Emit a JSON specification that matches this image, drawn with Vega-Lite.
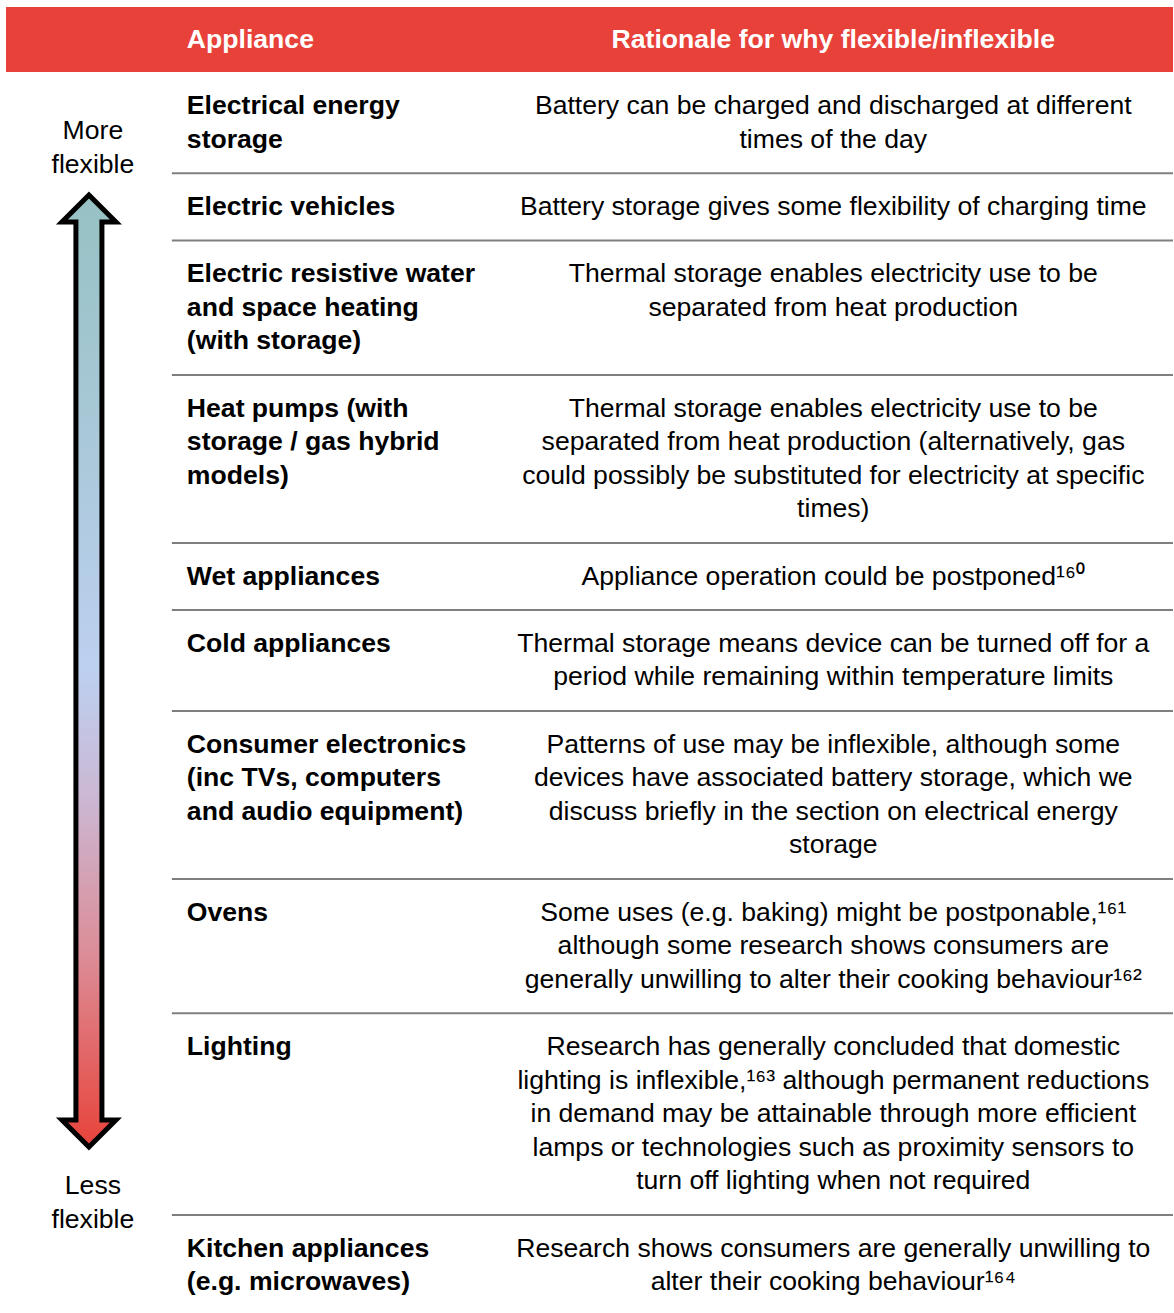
{
  "$schema": "https://vega.github.io/schema/vega-lite/v6.json",
  "width": 1174,
  "height": 1313,
  "autosize": {"type": "fit", "contains": "padding"},
  "padding": 0,
  "background": "white",
  "config": {
    "view": {"stroke": null},
    "text": {"font": "Liberation Sans, Noto Sans", "fontSize": 26.6, "color": "#000000"}
  },
  "datasets": {
    "header": [
      {"col": "Appliance", "line": -1},
      {"col": "Rationale for why flexible/inflexible", "line": -1}
    ],
    "appliances": [
      {"line": 1, "text": "Electrical energy"},
      {"line": 2, "text": "storage"},
      {"line": 4, "text": "Electric vehicles"},
      {"line": 6, "text": "Electric resistive water"},
      {"line": 7, "text": "and space heating"},
      {"line": 8, "text": "(with storage)"},
      {"line": 10, "text": "Heat pumps (with"},
      {"line": 11, "text": "storage / gas hybrid"},
      {"line": 12, "text": "models)"},
      {"line": 15, "text": "Wet appliances"},
      {"line": 17, "text": "Cold appliances"},
      {"line": 20, "text": "Consumer electronics"},
      {"line": 21, "text": "(inc TVs, computers"},
      {"line": 22, "text": "and audio equipment)"},
      {"line": 25, "text": "Ovens"},
      {"line": 29, "text": "Lighting"},
      {"line": 35, "text": "Kitchen appliances"},
      {"line": 36, "text": "(e.g. microwaves)"}
    ],
    "rationales": [
      {"line": 1, "text": "Battery can be charged and discharged at different"},
      {"line": 2, "text": "times of the day"},
      {"line": 4, "text": "Battery storage gives some flexibility of charging time"},
      {"line": 6, "text": "Thermal storage enables electricity use to be"},
      {"line": 7, "text": "separated from heat production"},
      {"line": 10, "text": "Thermal storage enables electricity use to be"},
      {"line": 11, "text": "separated from heat production (alternatively, gas"},
      {"line": 12, "text": "could possibly be substituted for electricity at specific"},
      {"line": 13, "text": "times)"},
      {"line": 15, "text": "Appliance operation could be postponed¹⁶⁰"},
      {"line": 17, "text": "Thermal storage means device can be turned off for a"},
      {"line": 18, "text": "period while remaining within temperature limits"},
      {"line": 20, "text": "Patterns of use may be inflexible, although some"},
      {"line": 21, "text": "devices have associated battery storage, which we"},
      {"line": 22, "text": "discuss briefly in the section on electrical energy"},
      {"line": 23, "text": "storage"},
      {"line": 25, "text": "Some uses (e.g. baking) might be postponable,¹⁶¹"},
      {"line": 26, "text": "although some research shows consumers are"},
      {"line": 27, "text": "generally unwilling to alter their cooking behaviour¹⁶²"},
      {"line": 29, "text": "Research has generally concluded that domestic"},
      {"line": 30, "text": "lighting is inflexible,¹⁶³ although permanent reductions"},
      {"line": 31, "text": "in demand may be attainable through more efficient"},
      {"line": 32, "text": "lamps or technologies such as proximity sensors to"},
      {"line": 33, "text": "turn off lighting when not required"},
      {"line": 35, "text": "Research shows consumers are generally unwilling to"},
      {"line": 36, "text": "alter their cooking behaviour¹⁶⁴"}
    ],
    "separators": [
      {"after": 3}, {"after": 5}, {"after": 9}, {"after": 14}, {"after": 16},
      {"after": 19}, {"after": 24}, {"after": 28}, {"after": 34}
    ],
    "scaleLabels": [
      {"line": 1.75, "text": "More"},
      {"line": 2.76, "text": "flexible"},
      {"line": 33.15, "text": "Less"},
      {"line": 34.14, "text": "flexible"}
    ],
    "arrow": [{"name": "flexibility"}]
  },
  "layer": [
    {
      "data": {"values": [{"name": "header"}]},
      "mark": {"type": "rect", "color": "#E8413A"},
      "encoding": {
        "x": {"datum": 6, "type": "quantitative", "scale": {"domain": [0, 1174], "nice": false, "zero": false}, "axis": null},
        "x2": {"datum": 1174},
        "y": {"datum": -1.905, "type": "quantitative", "scale": {"domain": [-2.113, 36.964], "nice": false, "zero": false, "reverse": true}, "axis": null},
        "y2": {"datum": 0.03}
      }
    },
    {
      "data": {"name": "header"},
      "transform": [{"filter": "datum.col == 'Appliance'"}],
      "mark": {"type": "text", "align": "left", "baseline": "middle", "fontWeight": "bold", "color": "#FFFFFF", "dy": 3},
      "encoding": {
        "x": {"datum": 187, "type": "quantitative", "scale": {"domain": [0, 1174], "nice": false, "zero": false}, "axis": null},
        "y": {"field": "line", "type": "quantitative", "scale": {"domain": [-2.113, 36.964], "nice": false, "zero": false, "reverse": true}, "axis": null},
        "text": {"field": "col"}
      }
    },
    {
      "data": {"name": "header"},
      "transform": [{"filter": "datum.col != 'Appliance'"}],
      "mark": {"type": "text", "align": "center", "baseline": "middle", "fontWeight": "bold", "color": "#FFFFFF", "dy": 3},
      "encoding": {
        "x": {"datum": 834, "type": "quantitative", "scale": {"domain": [0, 1174], "nice": false, "zero": false}, "axis": null},
        "y": {"field": "line", "type": "quantitative", "scale": {"domain": [-2.113, 36.964], "nice": false, "zero": false, "reverse": true}, "axis": null},
        "text": {"field": "col"}
      }
    },
    {
      "data": {"name": "separators"},
      "mark": {"type": "rule", "color": "#7F7F7F", "strokeWidth": 2, "yOffset": 1.5},
      "encoding": {
        "x": {"datum": 172, "type": "quantitative", "scale": {"domain": [0, 1174], "nice": false, "zero": false}, "axis": null},
        "x2": {"datum": 1174},
        "y": {"field": "after", "type": "quantitative", "scale": {"domain": [-2.113, 36.964], "nice": false, "zero": false, "reverse": true}, "axis": null}
      }
    },
    {
      "data": {"name": "appliances"},
      "mark": {"type": "text", "align": "left", "baseline": "middle", "fontWeight": "bold", "dy": 1.5},
      "encoding": {
        "x": {"datum": 187, "type": "quantitative", "scale": {"domain": [0, 1174], "nice": false, "zero": false}, "axis": null},
        "y": {"field": "line", "type": "quantitative", "scale": {"domain": [-2.113, 36.964], "nice": false, "zero": false, "reverse": true}, "axis": null},
        "text": {"field": "text"}
      }
    },
    {
      "data": {"name": "rationales"},
      "mark": {"type": "text", "align": "center", "baseline": "middle", "dy": 1.5},
      "encoding": {
        "x": {"datum": 834, "type": "quantitative", "scale": {"domain": [0, 1174], "nice": false, "zero": false}, "axis": null},
        "y": {"field": "line", "type": "quantitative", "scale": {"domain": [-2.113, 36.964], "nice": false, "zero": false, "reverse": true}, "axis": null},
        "text": {"field": "text"}
      }
    },
    {
      "data": {"name": "scaleLabels"},
      "mark": {"type": "text", "align": "center", "baseline": "middle", "dy": 1.5},
      "encoding": {
        "x": {"datum": 93, "type": "quantitative", "scale": {"domain": [0, 1174], "nice": false, "zero": false}, "axis": null},
        "y": {"field": "line", "type": "quantitative", "scale": {"domain": [-2.113, 36.964], "nice": false, "zero": false, "reverse": true}, "axis": null},
        "text": {"field": "text"}
      }
    },
    {
      "data": {"name": "arrow"},
      "mark": {
        "type": "point",
        "filled": true,
        "opacity": 1,
        "shape": "M0,-476 L27,-449 L13,-449 L13,449 L27,449 L0,476 L-27,449 L-13,449 L-13,-449 L-27,-449 Z",
        "size": 4,
        "fill": {
          "gradient": "linear",
          "x1": 0, "y1": 0, "x2": 0, "y2": 1,
          "stops": [
            {"offset": 0, "color": "#96C1C3"},
            {"offset": 0.25, "color": "#A9C8D8"},
            {"offset": 0.5, "color": "#BDD0F0"},
            {"offset": 0.63, "color": "#CBB8D4"},
            {"offset": 0.8, "color": "#DC8C96"},
            {"offset": 1, "color": "#E8433A"}
          ]
        },
        "stroke": "#000000",
        "strokeWidth": 5,
        "strokeJoin": "miter",
        "strokeMiterLimit": 10
      },
      "encoding": {
        "x": {"datum": 89, "type": "quantitative", "scale": {"domain": [0, 1174], "nice": false, "zero": false}, "axis": null},
        "y": {"datum": 17.857, "type": "quantitative", "scale": {"domain": [-2.113, 36.964], "nice": false, "zero": false, "reverse": true}, "axis": null}
      }
    }
  ]
}
